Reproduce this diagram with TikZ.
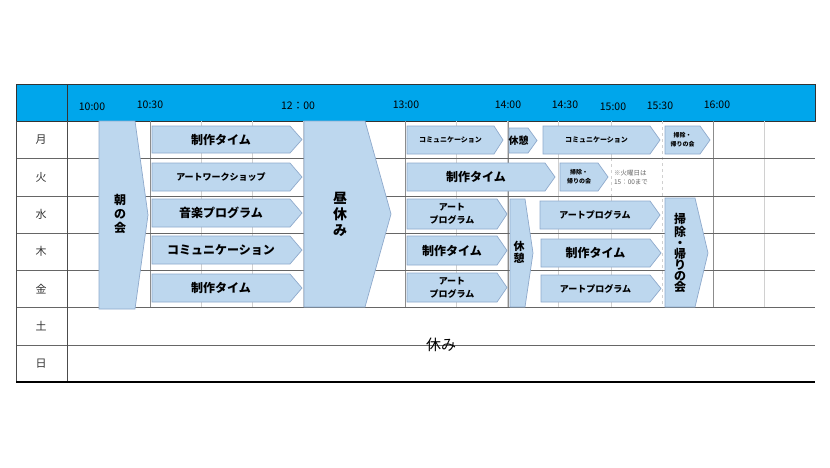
\documentclass[tikz,border=0pt]{standalone}
\usepackage{fontspec}
\setmainfont{Noto Sans CJK JP}
\newfontfamily\cjk{Noto Sans CJK JP}
\definecolor{hdr}{HTML}{00A6EB}
\definecolor{afill}{HTML}{BDD7EE}
\definecolor{aline}{HTML}{8FAACC}
\definecolor{grid}{HTML}{D0D0D0}
\tikzset{
 arr/.style={fill=afill,draw=aline,line width=0.7pt},
 atxt/.style={font=\fontsize{12}{13}\selectfont\bfseries,align=center,inner sep=0pt},
 stxt/.style={font=\fontsize{7}{9}\selectfont\bfseries,align=center,inner sep=0pt},
 mtxt/.style={font=\fontsize{9}{13}\selectfont\bfseries,align=center,inner sep=0pt},
 vtxt/.style={font=\fontsize{13}{15}\selectfont\bfseries,align=center,inner sep=0pt},
 day/.style={font=\fontsize{11}{12}\selectfont,text=black!80},
 tm/.style={font=\fontsize{10.5}{12}\selectfont,inner sep=0pt},
}
% name x1 x2 tip y1 y2 style text
\newcommand{\chev}[8]{%
 \draw[arr] (#2,#5) -- (#3,#5) -- (#4,{(#5+#6)/2}) -- (#3,#6) -- (#2,#6) -- cycle;
 \node[#7] (#1) at ({(#2+#3)/2},{(#5+#6)/2}) {#8};}
\begin{document}
\begin{tikzpicture}[x=1pt,y=-1pt]
\useasboundingbox (0,0) rectangle (830,467);
\fill[white] (0,0) rectangle (830,467);
% header
\fill[hdr] (16,84) rectangle (815,121);
\draw[black!80,line width=0.8pt] (16,84) rectangle (815,121);
\draw[black!80,line width=0.8pt] (67,84) -- (67,121);
% grid
\foreach \x in {150,201,252,303,354,405,456,507,558,713,764}
 \draw[grid,line width=0.6pt] (\x,121) -- (\x,307);
\draw[grid,dashed,line width=0.6pt] (611,158) -- (611,196);
\draw[grid,line width=0.6pt] (611,121) -- (611,158) (611,196) -- (611,307);
\draw[grid,dashed,line width=0.6pt] (662,121) -- (662,307);
\foreach \x in {150,405,508,713}
 \draw[black!45,line width=0.8pt] (\x,121) -- (\x,307);
\foreach \y in {158,196,233,270,307,345}
 \draw[black!60,line width=0.6pt] (16,\y) -- (815,\y);
\draw[black!70,line width=0.8pt] (16,121) -- (16,382);
\draw[black!70,line width=0.8pt] (67,121) -- (67,382);
\draw[black,line width=1.3pt] (16,382) -- (815,382);
% times
\node[tm] (t1) at (92,107) {10:00};
\node[tm] (t2) at (150,105) {10:30};
\node[tm] (t3) at (298,106) {12：00};
\node[tm] (t4) at (406,105) {13:00};
\node[tm] (t5) at (508,105) {14:00};
\node[tm] (t6) at (565,105) {14:30};
\node[tm] (t7) at (613,107) {15:00};
\node[tm] (t8) at (660,106) {15:30};
\node[tm] (t9) at (717,105) {16:00};
% days
\node[day] (d1) at (41,140) {月};
\node[day] (d2) at (41,177) {火};
\node[day] (d3) at (41,214) {水};
\node[day] (d4) at (41,251) {木};
\node[day] (d5) at (41,289) {金};
\node[day] (d6) at (41,326) {土};
\node[day] (d7) at (41,364) {日};
% vertical arrows
\draw[arr] (99,121) -- (135,121) -- (148,215) -- (135,309) -- (99,309) -- cycle;
\node[vtxt,font=\fontsize{12}{14}\selectfont\bfseries] (asa) at (120,214) {朝\\の\\会};
\draw[arr] (304,121) -- (365,121) -- (391,214) -- (365,307) -- (304,307) -- cycle;
\node[vtxt,font=\fontsize{14}{16}\selectfont\bfseries] (hiru) at (340,214) {昼\\休\\み};
\draw[arr] (510,199) -- (525,199) -- (533,253) -- (525,307) -- (510,307) -- cycle;
\node[vtxt,font=\fontsize{11}{12}\selectfont\bfseries] (kyu2) at (519,252) {休\\憩};
\draw[arr] (665,198) -- (695,198) -- (708,253) -- (695,307) -- (665,307) -- cycle;
\node[vtxt,font=\fontsize{12}{11}\selectfont\bfseries] (souji) at (680,253) {掃\\除\\・\\帰\\り\\の\\会};
% morning arrows
\chev{m1}{152}{290}{302}{126}{153}{atxt}{制作タイム}
\chev{m2}{152}{290}{302}{163}{191}{mtxt}{アートワークショップ}
\chev{m3}{152}{290}{302}{199}{227}{atxt}{音楽プログラム}
\chev{m4}{152}{290}{302}{236}{264}{atxt}{コミュニケーション}
\chev{m5}{152}{290}{302}{274}{302}{atxt}{制作タイム}
% Mon
\chev{a1}{407}{494}{503}{126}{154}{stxt}{コミュニケーション}
\chev{a2}{509}{528}{537}{128}{153}{mtxt,font=\fontsize{10}{11}\selectfont\bfseries}{休憩}
\chev{a3}{543}{650}{660}{126}{154}{stxt}{コミュニケーション}
\chev{a4}{665}{700}{710}{126}{154}{stxt,font=\fontsize{6}{9}\selectfont\bfseries}{掃除・\\帰りの会}
% Tue
\chev{b1}{407}{545}{555}{163}{191}{atxt}{制作タイム}
\chev{b2}{560}{598}{608}{163}{191}{stxt,font=\fontsize{6}{9}\selectfont\bfseries}{掃除・\\帰りの会}
\node[font=\fontsize{6.5}{9}\selectfont,text=black!60,align=left] (note) at (631,177) {※火曜日は\\15：00まで};
% Wed
\chev{c1}{407}{497}{507}{199}{229}{mtxt}{アート\\プログラム}
\chev{c2}{540}{650}{660}{201}{229}{mtxt}{アートプログラム}
% Thu
\chev{e1}{407}{497}{507}{236}{265}{atxt}{制作タイム}
\chev{e2}{541}{650}{661}{239}{267}{atxt}{制作タイム}
% Fri
\chev{f1}{407}{497}{507}{273}{302}{mtxt}{アート\\プログラム}
\chev{f2}{541}{650}{661}{275}{302}{mtxt}{アートプログラム}
% holiday
\node[font=\fontsize{15}{16}\selectfont] (yasumi) at (441,345) {休み};
\end{tikzpicture}
\end{document}
